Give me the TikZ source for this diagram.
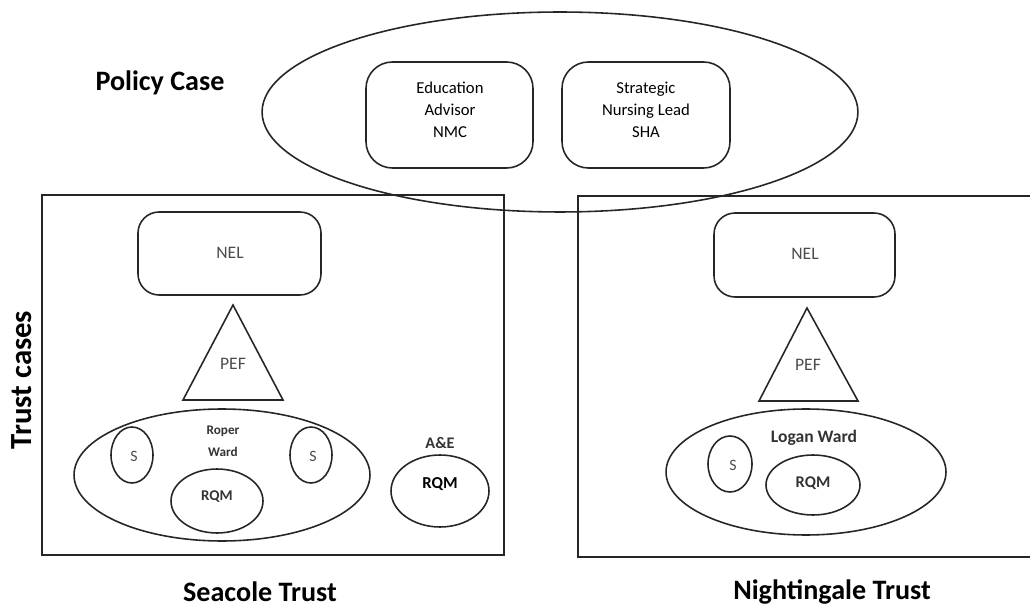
\documentclass[tikz,border=0pt]{standalone}
\usepackage{fontspec}
\setmainfont{Carlito}
\begin{document}
\begin{tikzpicture}[x=0.02cm,y=-0.02cm,line width=0.9pt,
  outline/.style={draw=black!85},
  headline/.style={font=\bfseries\fontsize{16}{18}\selectfont},
  roletext/.style={align=center,font=\fontsize{9.5}{12.5}\selectfont},
  smalltext/.style={text=black!70,font=\fontsize{10}{12}\selectfont},
  wardtext/.style={align=center,text=black!80,font=\bfseries\fontsize{7.5}{12.5}\selectfont}]
\useasboundingbox (0,0) rectangle (1030,607);
\begin{scope}
\clip (0,0) rectangle (1030,607);

% policy level
\draw[outline] (560,112) ellipse [x radius=5.96cm, y radius=2.0cm];
\draw[outline,rounded corners=15] (366,62) rectangle (533,168);
\draw[outline,rounded corners=15] (562,62) rectangle (730,168);
\node[roletext] (edu) at (450,110) {Education\\Advisor\\NMC};
\node[roletext] (sna) at (646,110) {Strategic\\Nursing Lead\\SHA};
\node[headline] (policy) at (160,83) {Policy Case};

% Seacole trust
\draw[outline] (42,195) rectangle (504,555);
\draw[outline,rounded corners=12] (138,212) rectangle (321,295);
\node[smalltext] (nelA) at (230,253) {NEL};
\draw[outline] (233,305) -- (283,400) -- (183,400) -- cycle;
\node[smalltext] (pefA) at (233,364) {PEF};
\draw[outline] (222,475) ellipse [x radius=2.96cm, y radius=1.32cm];
\draw[outline] (132,455) ellipse [x radius=0.42cm, y radius=0.56cm];
\draw[outline] (311,455) ellipse [x radius=0.42cm, y radius=0.56cm];
\draw[outline] (217,501) ellipse [x radius=0.92cm, y radius=0.64cm];
\node[smalltext,font=\fontsize{9}{11}\selectfont] (sA1) at (134,456) {S};
\node[smalltext,font=\fontsize{9}{11}\selectfont] (sA2) at (313,456) {S};
\node[wardtext] (roper) at (223,441) {Roper\\Ward};
\node[wardtext,font=\bfseries\fontsize{8.5}{10}\selectfont] (rqmA) at (217,497) {RQM};
\draw[outline] (440,491) ellipse [x radius=0.98cm, y radius=0.72cm];
\node[wardtext,font=\bfseries\fontsize{9.2}{11}\selectfont] (ae) at (440,443) {A\&E};
\node[font=\bfseries\fontsize{9.5}{11}\selectfont] (rqmAE) at (440,484) {RQM};
\node[headline,font=\bfseries\fontsize{17.5}{20}\selectfont,rotate=90] (trust) at (22,380) {Trust cases};
\node[headline] (seacole) at (260,592) {Seacole Trust};

% Nightingale trust
\draw[outline] (578,196) rectangle (1045,557);
\draw[outline,rounded corners=12] (714,213) rectangle (895,297);
\node[smalltext] (nelB) at (805,254) {NEL};
\draw[outline] (807,308) -- (858,401) -- (759,401) -- cycle;
\node[smalltext] (pefB) at (808,365) {PEF};
\draw[outline] (806,472) ellipse [x radius=2.8cm, y radius=1.26cm];
\draw[outline] (730,464) ellipse [x radius=0.44cm, y radius=0.56cm];
\draw[outline] (813,485) ellipse [x radius=0.94cm, y radius=0.6cm];
\node[wardtext,font=\bfseries\fontsize{10}{12}\selectfont] (logan) at (814,438) {Logan Ward};
\node[smalltext,font=\fontsize{9}{11}\selectfont] (sB) at (733,465) {S};
\node[wardtext,font=\bfseries\fontsize{9.3}{11}\selectfont] (rqmB) at (813,483) {RQM};
\node[headline] (nightingale) at (832,592) {Nightingale Trust};
\end{scope}
\end{tikzpicture}
\end{document}
